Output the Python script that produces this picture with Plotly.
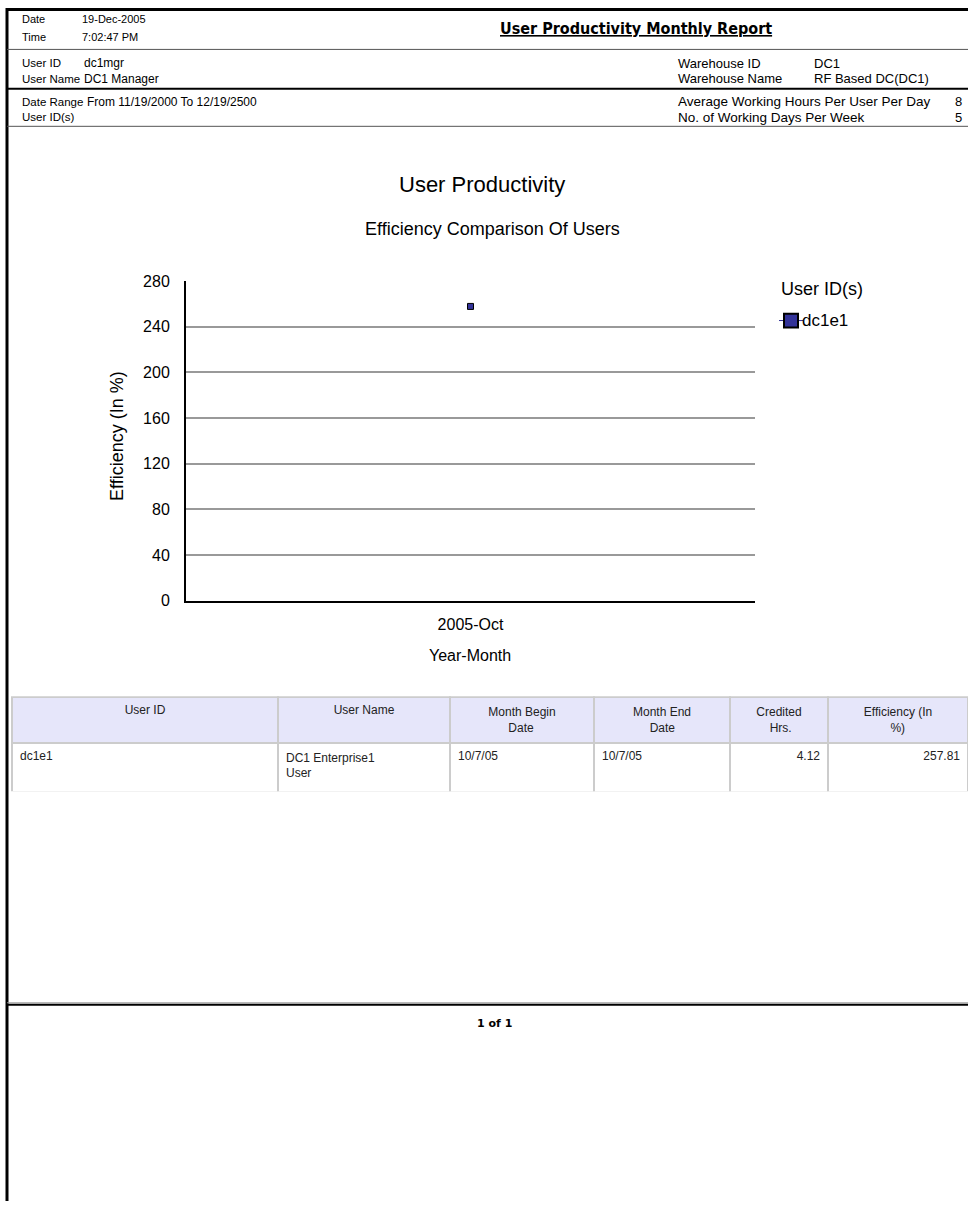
import plotly.graph_objects as go

# ---- report data ----
year_months = ["2005-Oct"]
user_ids = ["dc1e1"]
efficiency_pct = [257.81]
user_names = ["DC1 Enterprise1<br>User"]
month_begin = ["10/7/05"]
month_end = ["10/7/05"]
credited_hrs = [4.12]

y_ticks = [0, 40, 80, 120, 160, 200, 240, 280]

NB = "\u00a0"
table_headers = ["User ID", "User Name",
                 "Month Begin<br>" + NB * 6 + "Date",
                 "Month End<br>" + NB * 5 + "Date",
                 "Credited<br>" + NB * 4 + "Hrs.",
                 "Efficiency (In<br>" + NB * 8 + "%)"]

W, H = 968, 1210
FONT = "Arial, 'Liberation Sans', sans-serif"
SERIES_COLOR = "#333399"


def px(x):
    return x / W


def py(y):
    return 1 - y / H


fig = go.Figure()

# efficiency scatter
fig.add_trace(go.Scatter(
    x=year_months, y=efficiency_pct, name=user_ids[0], mode="markers",
    marker=dict(symbol="square", size=6, color=SERIES_COLOR,
                line=dict(color="black", width=1)),
    xaxis="x", yaxis="y", showlegend=False,
))

# detail table
fig.add_trace(go.Table(
    domain=dict(x=[px(12), px(968)], y=[py(795), py(699)]),
    columnwidth=[266, 172, 144, 136, 98, 140],
    header=dict(
        values=table_headers,
        fill_color="#E6E6FA",
        line=dict(color="#CCCCCC", width=2),
        align="center",
        font=dict(family=FONT, size=12, color="#222"),
        height=43,
    ),
    cells=dict(
        values=[user_ids, user_names, month_begin, month_end,
                [f"{v:.2f}" for v in credited_hrs],
                [f"{v:.2f}" for v in efficiency_pct]],
        fill_color="white",
        line=dict(color="#CCCCCC", width=2),
        align=["left", "left", "left", "left", "right", "right"],
        font=dict(family=FONT, size=12, color="#222"),
        height=49,
    ),
))

shapes = []


def hline(y, x0, x1, color, width):
    shapes.append(dict(type="line", xref="paper", yref="paper",
                       x0=px(x0), x1=px(x1), y0=py(y), y1=py(y),
                       line=dict(color=color, width=width)))


# page frame
shapes.append(dict(type="line", xref="paper", yref="paper",
                   x0=px(7), x1=px(7), y0=0, y1=1,
                   line=dict(color="black", width=3)))
hline(1.5, 6, 968, "black", 3)
hline(42, 7, 968, "#555", 1)
hline(82, 7, 968, "black", 2)
hline(120, 7, 968, "#555", 1)
hline(1009, 7, 968, "#999", 1)
hline(1011, 7, 968, "black", 2)

annotations = []


def text(x, y, s, size=12, anchor="left", bold=False, family=FONT, color="black"):
    annotations.append(dict(
        xref="paper", yref="paper", x=px(x), y=py(y), text=f"<b>{s}</b>" if bold else s,
        showarrow=False, xanchor=anchor, yanchor="middle",
        font=dict(family=family, size=size, color=color)))


# header block
text(20, 11, "Date", 11)
text(80, 11, "19-Dec-2005", 11)
text(20, 29, "Time", 11)
text(80, 29, "7:02:47 PM", 11)
text(636, 21, "<u>User Productivity Monthly Report</u>", 16, anchor="center", bold=True,
     family="'DejaVu Sans Condensed', 'Liberation Sans Narrow', Arial, sans-serif")

text(20, 56, "User ID", 11.5)
text(82, 56, "dc1mgr", 12)
text(20, 72, "User Name", 11.5)
text(82, 72, "DC1 Manager", 12)
text(676, 56, "Warehouse ID", 13)
text(812, 56, "DC1", 13)
text(676, 72, "Warehouse Name", 13)
text(812, 72, "RF Based DC(DC1)", 13)

text(20, 95, "Date Range", 11.5)
text(85, 95, "From 11/19/2000 To 12/19/2500", 12)
text(20, 111, "User ID(s)", 11.5)
text(676, 95, "Average Working Hours Per User Per Day", 13.5)
text(964, 95, "8", 13, anchor="right")
text(676, 111, "No. of Working Days Per Week", 13.5)
text(964, 111, "5", 13, anchor="right")

# chart titles
text(482, 179, "User Productivity", 22, anchor="center")
text(492, 224, "Efficiency Comparison Of Users", 18, anchor="center")
text(470, 657, "Year-Month", 16, anchor="center")
annotations.append(dict(
    xref="paper", yref="paper", x=px(117), y=py(434), text="Efficiency (In %)",
    textangle=-90, showarrow=False, xanchor="center", yanchor="middle",
    font=dict(family=FONT, size=18, color="black")))

# legend block
text(779, 285, "User ID(s)", 18)
shapes.append(dict(type="line", xref="paper", yref="paper",
                   x0=px(779), x1=px(803), y0=py(317), y1=py(317),
                   line=dict(color=SERIES_COLOR, width=1)))
shapes.append(dict(type="rect", xref="paper", yref="paper",
                   x0=px(784), x1=px(798), y0=py(324), y1=py(310),
                   fillcolor=SERIES_COLOR, line=dict(color="black", width=2)))
text(800, 317, user_ids[0], 17)

# footer
text(494, 1030, "1 of 1", 11, anchor="center", bold=True,
     family="Tahoma, 'DejaVu Sans', sans-serif")

fig.update_layout(
    width=W, height=H,
    margin=dict(l=0, r=0, t=0, b=0),
    paper_bgcolor="white", plot_bgcolor="white",
    font=dict(family=FONT, color="black"),
    shapes=shapes, annotations=annotations,
    showlegend=False,
    xaxis=dict(domain=[px(186), px(755)], type="category", range=[-0.5, 0.5],
               showgrid=False, showline=True, linecolor="black", linewidth=2,
               ticks="", tickfont=dict(size=16), ticklabelstandoff=8, zeroline=False),
    yaxis=dict(domain=[py(601), py(277)], range=[0, 280], tickvals=y_ticks,
               showgrid=True, gridcolor="#999999", gridwidth=1.5,
               showline=True, linecolor="black", linewidth=2,
               ticks="", tickfont=dict(size=16), ticklabelstandoff=11, zeroline=False),
)

fig.write_html("out.html")
